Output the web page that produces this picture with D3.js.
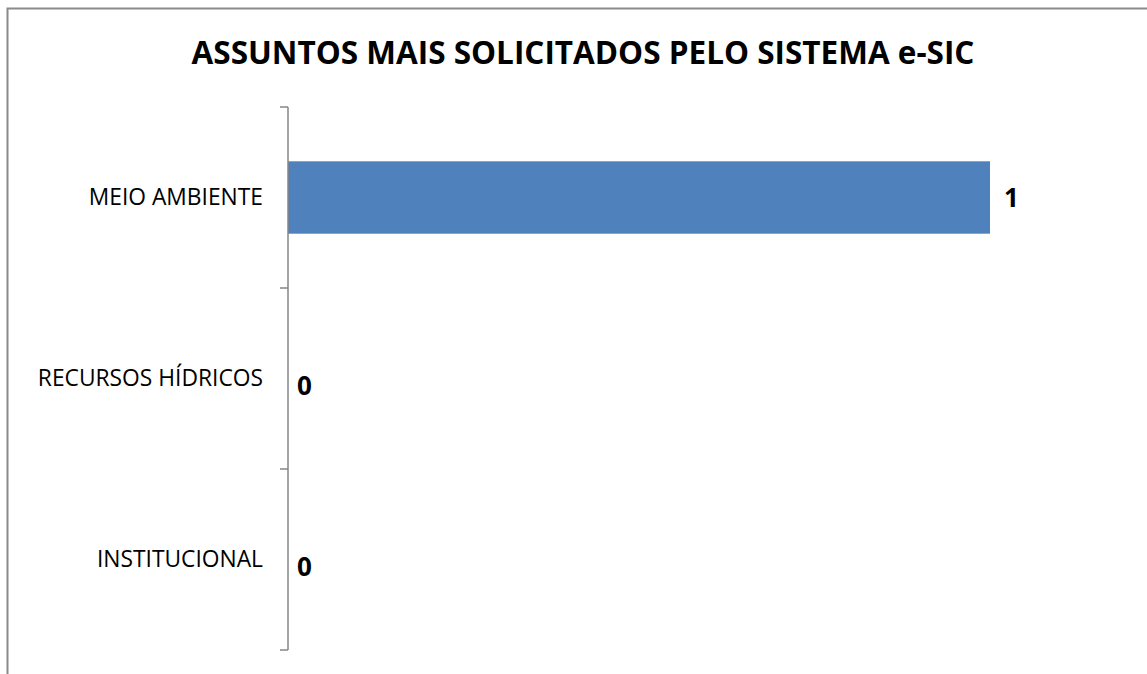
<!DOCTYPE html>
<html>
<head>
<meta charset="utf-8">
<script src="https://cdn.jsdelivr.net/npm/d3@7"></script>
<style>
  body { margin: 0; background: #fff; }
  svg text { font-family: "Open Sans", sans-serif; }
</style>
</head>
<body>
<div id="chart"></div>
<script>
// chart data
const categories = ["MEIO AMBIENTE", "RECURSOS HÍDRICOS", "INSTITUCIONAL"];
const values     = [1, 0, 0];
const title      = "ASSUNTOS MAIS SOLICITADOS PELO SISTEMA e-SIC";

let canvasWidth  = 1147;
let canvasHeight = 674;

let svg = d3.select("#chart").append("svg")
	.attr("width", canvasWidth)
	.attr("height", canvasHeight);

// outer chart frame (only left and top edges visible in the crop)
svg.append("path")
	.attr("d", "M7.5,674 V8.5 H1147")
	.attr("fill", "none")
	.attr("stroke", "#8a8a8a")
	.attr("stroke-width", 2);

svg.append("text")
	.attr("x", 583)
	.attr("y", 63.5)
	.attr("text-anchor", "middle")
	.attr("font-weight", "bold")
	.attr("font-size", 31.5)
	.attr("fill", "#000")
	.text(title);

let x = d3.scaleLinear().domain([0, 1]).range([288, 990]);
let y = d3.scaleBand().domain(categories).range([107, 650]).paddingInner(0.6).paddingOuter(0.3);

svg.append("g")
	.selectAll("rect")
	.data(values).enter()
	.append("rect")
		.attr("x", x(0))
		.attr("y", (d, i) => y(categories[i]))
		.attr("width", (d) => x(d) - x(0))
		.attr("height", y.bandwidth())
		.attr("fill", "#4f81bd");

// category axis: ticks sit on band boundaries
let bounds = [107].concat(categories.map((c) => y(c) + y.bandwidth() + y.step() * 0.3));
let axis = svg.append("g").attr("stroke", "#868686").attr("stroke-width", 1.5);
axis.append("line")
	.attr("x1", 288).attr("x2", 288)
	.attr("y1", 107).attr("y2", 650);
axis.selectAll("line.tick")
	.data(bounds).enter()
	.append("line")
		.attr("class", "tick")
		.attr("x1", 280).attr("x2", 288)
		.attr("y1", (d) => d).attr("y2", (d) => d);

svg.append("g")
	.selectAll("text")
	.data(categories).enter()
	.append("text")
		.attr("x", 263)
		.attr("y", (d) => y(d) + y.bandwidth() / 2)
		.attr("dy", "0.35em")
		.attr("text-anchor", "end")
		.attr("font-size", 22.8)
		.attr("fill", "#000")
		.text((d) => d);

// value labels; zero-length bars get their label dropped a little, as in the original
svg.append("g")
	.selectAll("text")
	.data(values).enter()
	.append("text")
		.attr("x", (d) => x(d) + (d ? 14 : 9))
		.attr("y", (d, i) => y(categories[i]) + y.bandwidth() / 2 + (d ? 0.5 : 7))
		.attr("dy", "0.35em")
		.attr("font-size", 26)
		.attr("font-weight", "bold")
		.attr("fill", "#000")
		.text((d) => d);
</script>
</body>
</html>
